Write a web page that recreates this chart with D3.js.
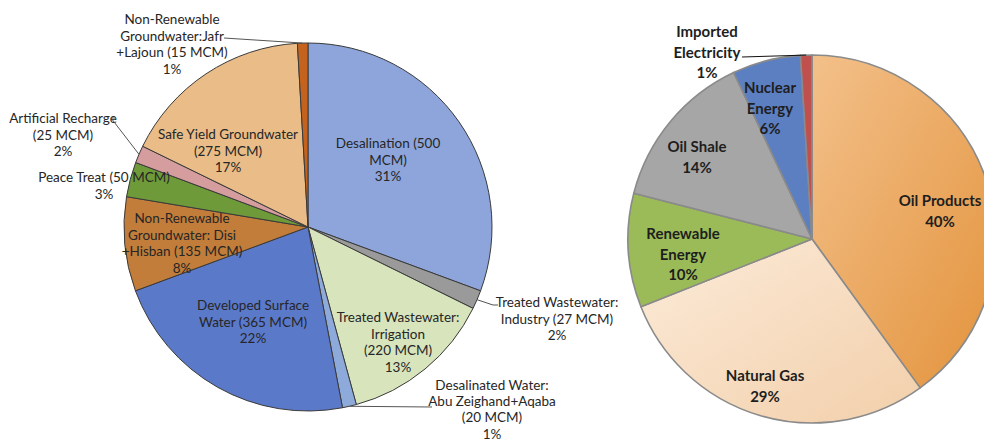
<!DOCTYPE html>
<html>
<head>
<meta charset="utf-8">
<script src="https://cdn.jsdelivr.net/npm/d3@7"></script>
<style>
  html, body { margin: 0; padding: 0; background: #fff; }
  svg { display: block; }
  .lbl { font-family: Lato, "Open Sans", sans-serif; fill: #262626; }
  .lbl-left { font-size: 13.5px; }
  .lbl-right { font-size: 15px; font-weight: bold; fill: #1e1e1e; }
</style>
</head>
<body>
<svg id="chart" width="984" height="443"></svg>
<script>
// ---- Left pie: water sources (MCM), clockwise from 12 o'clock
const waterSources = [
  'Desalination', 'Treated Wastewater: Industry', 'Treated Wastewater: Irrigation',
  'Desalinated Water: Abu Zeighand+Aqaba', 'Developed Surface Water',
  'Non-Renewable Groundwater: Disi+Hisban', 'Peace Treat', 'Artificial Recharge',
  'Safe Yield Groundwater', 'Non-Renewable Groundwater: Jafr+Lajoun'
];
const waterMCM = [500, 27, 220, 20, 365, 135, 50, 25, 275, 15];
const waterLabelLines = [
  ['Desalination (500', 'MCM)'],
  ['Treated Wastewater:', 'Industry (27 MCM)'],
  ['Treated Wastewater:', 'Irrigation', '(220 MCM)'],
  ['Desalinated Water:', 'Abu Zeighand+Aqaba', '(20 MCM)'],
  ['Developed Surface', 'Water (365 MCM)'],
  ['Non-Renewable', 'Groundwater: Disi', '+Hisban (135 MCM)'],
  ['Peace Treat (50 MCM)'],
  ['Artificial Recharge', '(25 MCM)'],
  ['Safe Yield Groundwater', '(275 MCM)'],
  ['Non-Renewable', 'Groundwater:Jafr', '+Lajoun (15 MCM)']
];

// ---- Right pie: energy mix (%), clockwise from 12 o'clock
const energySources = ['Oil Products', 'Natural Gas', 'Renewable Energy', 'Oil Shale', 'Nuclear Energy', 'Imported Electricity'];
const energyShare = [40, 29, 10, 14, 6, 1];
const energyLabelLines = [
  ['Oil Products'], ['Natural Gas'], ['Renewable', 'Energy'], ['Oil Shale'], ['Nuclear', 'Energy'], ['Imported', 'Electricity']
];

// ---- layout / style
const waterColors = ['#8da5db', '#9a9a9a', '#d8e4bc', '#8eaadb', '#5b79c9', '#c27d3a', '#6f9a3a', '#d59d9d', '#e9bc88', '#c4631e'];
const energyColors = ['url(#gOil)', 'url(#gGas)', '#9bbb59', '#a6a6a6', '#5c7fc2', '#c0504d'];

// label centre (x, y of first line); optional line step and leader start point
const waterLabelPos = [
  { x: 388, y: 143 },
  { x: 557, y: 302, leader: { x: 498, y: 305 } },
  { x: 398, y: 317 },
  { x: 492, y: 385, step: 16.2, leader: { x: 432, y: 407, flat: true } },
  { x: 253, y: 305 },
  { x: 182, y: 218 },
  { x: 104, y: 177 },
  { x: 63, y: 118, leader: { x: 116, y: 118 } },
  { x: 228, y: 134 },
  { x: 172, y: 19, leader: { x: 224, y: 38, flat: true } }
];
const energyLabelPos = [
  { x: 940, y: 200 },
  { x: 765, y: 375 },
  { x: 683, y: 233 },
  { x: 697, y: 146 },
  { x: 770, y: 87 },
  { x: 707, y: 31, leader: { x: 742, y: 57, flat: true } }
];

const svg = d3.select('#chart');

// gradients for the shaded energy slices
const defs = svg.append('defs');
function grad(id, c0, c1) {
  const g = defs.append('linearGradient').attr('id', id)
    .attr('x1', '0%').attr('y1', '0%').attr('x2', '100%').attr('y2', '100%');
  g.append('stop').attr('offset', '0%').attr('stop-color', c0);
  g.append('stop').attr('offset', '100%').attr('stop-color', c1);
}
grad('gOil', '#f3c08a', '#e3933c');
grad('gGas', '#fcebd9', '#f2cfaa');

const pie = d3.pie().sort(null).value(d => d);

function drawPie(cx, cy, r, values, colors, stroke, strokeW) {
  const arcs = pie(values);
  const arc = d3.arc().innerRadius(0).outerRadius(r);
  const g = svg.append('g').attr('transform', `translate(${cx},${cy})`);
  g.selectAll('path')
    .data(arcs)
    .join('path')
    .attr('d', arc)
    .attr('fill', (d, i) => colors[i])
    .attr('stroke', stroke)
    .attr('stroke-width', strokeW)
    .attr('stroke-linejoin', 'round');
  return { arcs, g, r };
}

function drawLabels(p, lines, pct, pos, cls, lineH, cx, cy, leaderColor) {
  p.arcs.forEach((a, i) => {
    const lp = pos[i];
    const step = lp.step || lineH;
    const all = lines[i].concat([pct[i]]);
    const t = svg.append('text')
      .attr('class', 'lbl ' + cls)
      .attr('text-anchor', 'middle');
    all.forEach((s, k) => {
      t.append('tspan')
        .attr('x', lp.x)
        .attr('y', lp.y + k * step)
        .attr('dominant-baseline', 'central')
        .text(s);
    });
    if (lp.leader) {
      // leader ends on the slice's outer edge at its mid angle
      const mid = (a.startAngle + a.endAngle) / 2;
      const ex = cx + p.r * Math.sin(mid);
      const ey = cy - p.r * Math.cos(mid);
      const pts = lp.leader.flat
        ? [[lp.leader.x, lp.leader.y], [ex, ey]]
        : [[lp.leader.x, lp.leader.y], [lp.leader.x - 5, lp.leader.y], [ex, ey]];
      svg.append('path')
        .attr('d', d3.line()(pts))
        .attr('fill', 'none')
        .attr('stroke', leaderColor)
        .attr('stroke-width', 1);
    }
  });
}

// left pie
const wcx = 308, wcy = 227, wr = 184;
const wTotal = d3.sum(waterMCM);
const waterPct = waterMCM.map(v => Math.round(v / wTotal * 100) + '%');
const leftPie = drawPie(wcx, wcy, wr, waterMCM, waterColors, '#3a3a3a', 1);
drawLabels(leftPie, waterLabelLines, waterPct, waterLabelPos, 'lbl-left', 16.7, wcx, wcy, '#555');

// right pie
const ecx = 812, ecy = 239, er = 184;
const energyPct = energyShare.map(v => v + '%');
const rightPie = drawPie(ecx, ecy, er, energyShare, energyColors, '#8a8a8a', 1.6);
drawLabels(rightPie, energyLabelLines, energyPct, energyLabelPos, 'lbl-right', 20.5, ecx, ecy, '#111');
</script>
</body>
</html>
